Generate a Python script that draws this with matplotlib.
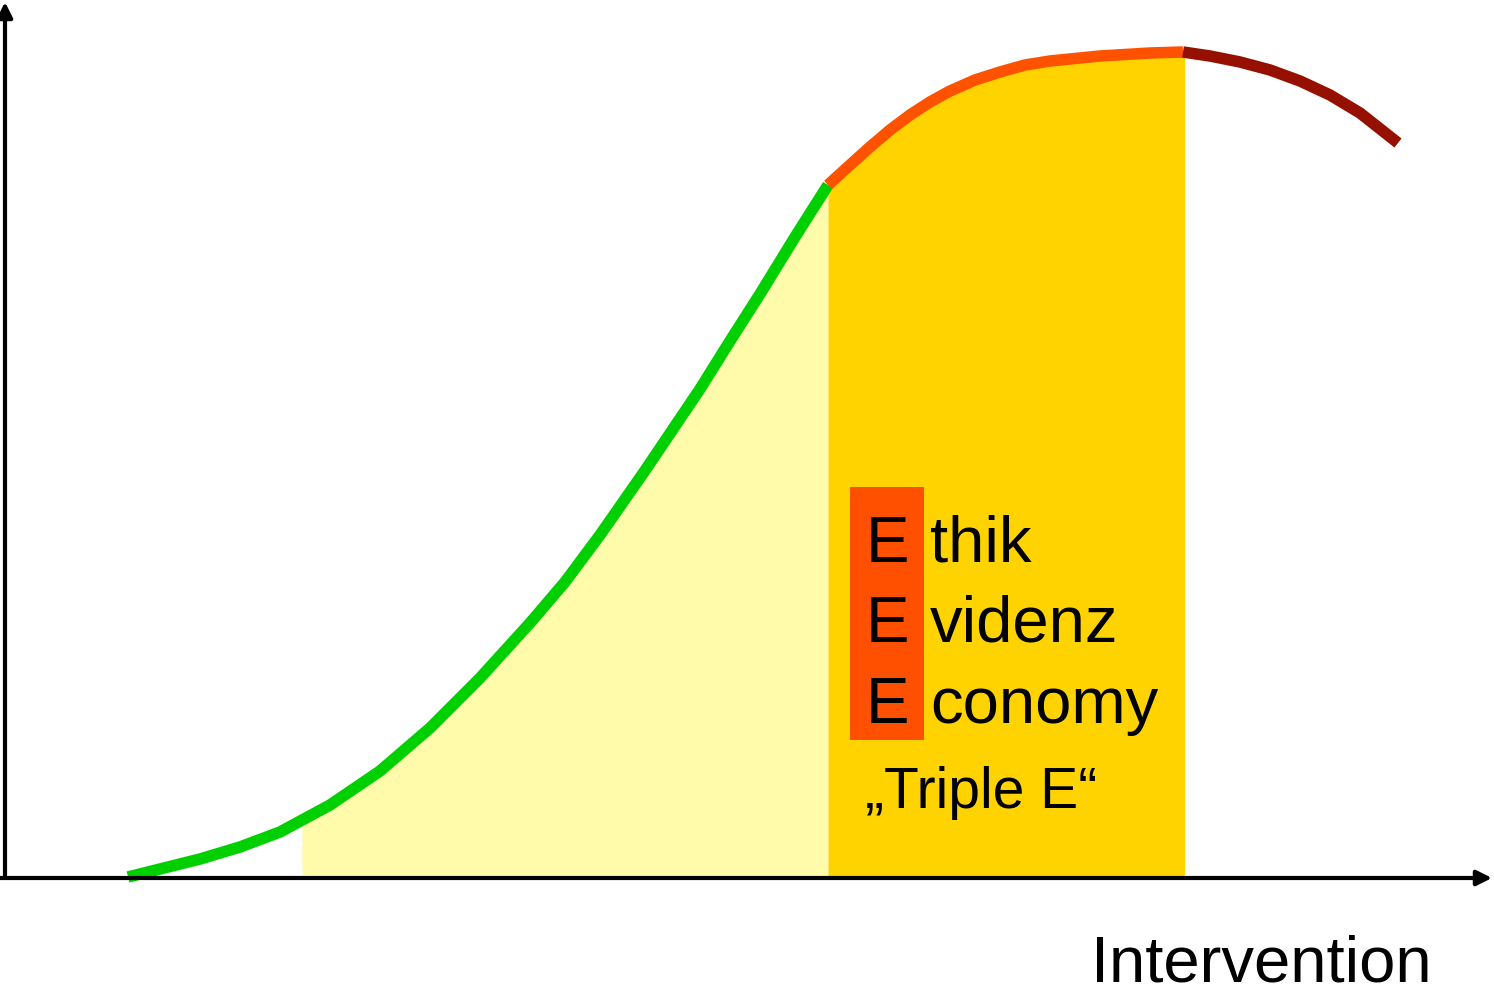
import numpy as np
import matplotlib.pyplot as plt
from matplotlib.patches import Rectangle

plt.rcParams['font.family'] = ['Liberation Sans', 'DejaVu Sans']

# curve segments (x = intervention, y = effect above axis)
green_x = [128, 160, 200, 240, 280, 330, 380, 430, 480, 530, 565, 600, 644, 700, 730, 760, 795, 828]
green_y = [1, 9, 19, 31, 46, 73, 107, 150, 200, 255, 296, 343, 406, 489, 537, 584, 641, 693]
orange_x = [828, 850, 870, 890, 910, 930, 950, 975, 1000, 1025, 1050, 1100, 1150, 1183]
orange_y = [693, 713, 731, 748, 763, 776, 787, 798, 806, 813, 817, 822, 825, 826]
red_x = [1183, 1210, 1240, 1270, 1300, 1330, 1360, 1398]
red_y = [826, 822, 816, 808, 797, 783, 765, 735]

light_start = 302
gold_end = 1185

words = ["thik", "videnz", "conomy"]
word_y = [333, 253, 172]

fig = plt.figure(figsize=(14.94, 9.94), dpi=100)
ax = fig.add_axes([0, 0, 1, 1])
ax.set_xlim(0, 1494)
ax.set_ylim(-116, 878)
ax.axis('off')

# fills under curve
cx = np.array(green_x + orange_x[1:])
cy = np.array(green_y + orange_y[1:])
xs = np.concatenate([[light_start], cx[(cx > light_start) & (cx <= green_x[-1])]])
ax.fill_between(xs, 0, np.interp(xs, cx, cy), color='#FFFBAA', lw=0, zorder=1)
xg = cx[cx >= green_x[-1]]
ax.fill_between(xg, 0, np.interp(xg, cx, cy), color='#FFD300', lw=0, zorder=1)
ax.fill_between([orange_x[-1], gold_end], 0, orange_y[-1], color='#FFD300', lw=0, zorder=1)

kw = dict(lw=8.3, solid_capstyle='butt', solid_joinstyle='round', zorder=3)
ax.plot(green_x, green_y, color='#00D000', **kw)
ax.plot(orange_x, orange_y, color='#FF5200', **kw)
ax.plot(red_x, red_y, color='#961000', **kw)

# axes arrows
ax.annotate('', xy=(1492, 0), xytext=(0, 0),
            arrowprops=dict(arrowstyle='-|>,head_length=0.9,head_width=0.45', lw=3, color='black', shrinkA=0, shrinkB=0), zorder=4)
ax.annotate('', xy=(5, 876), xytext=(5, 0),
            arrowprops=dict(arrowstyle='-|>,head_length=0.9,head_width=0.45', lw=3, color='black', shrinkA=0, shrinkB=0), zorder=4)

# triple E box
ax.add_patch(Rectangle((850, 138), 74, 253, color='#FF5000', lw=0, zorder=2))
for w, y in zip(words, word_y):
    ax.text(887, y, "E", fontsize=47, ha='center', va='center', zorder=5)
    ax.text(930, y, w, fontsize=47, ha='left', va='center', zorder=5)
ax.text(865, 85, "\u201eTriple E\u201c", fontsize=41, ha='left', va='center', zorder=5)

ax.text(1432, -87, "Intervention", fontsize=47, ha='right', va='center')

fig.savefig('out.png', dpi=100)
